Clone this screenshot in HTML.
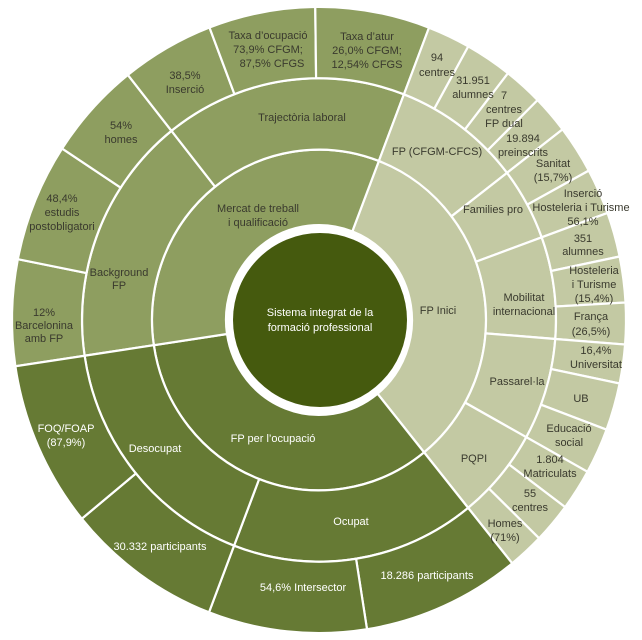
<!DOCTYPE html>
<html><head><meta charset="utf-8"><style>
html,body{margin:0;padding:0;background:#fff;width:642px;height:640px;overflow:hidden}
svg{display:block}
text{font-family:"Liberation Sans",sans-serif;font-size:11px;text-anchor:middle}
.d{fill:#3a3a2e}.w{fill:#fff}
</style></head><body>
<svg id="s" width="642" height="640" viewBox="0 0 642 640" xmlns="http://www.w3.org/2000/svg">
<g id="g" transform="translate(319,320) scale(1,1.02)"></g>
<circle cx="320" cy="320" r="87" fill="#455a0e"/>
<g class="w">
<text x="320" y="316">Sistema integrat de la</text><text x="320" y="331">formació professional</text>
<text x="273" y="442">FP per l’ocupació</text>
<text x="155" y="452">Desocupat</text>
<text x="351" y="525">Ocupat</text>
<text x="66" y="432">FOQ/FOAP</text><text x="66" y="446">(87,9%)</text>
<text x="160" y="550">30.332 participants</text>
<text x="303" y="591">54,6% Intersector</text>
<text x="427" y="579">18.286 participants</text>
</g>
<g class="d">
<text x="258" y="212">Mercat de treball</text><text x="258" y="226">i qualificació</text>
<text x="438" y="314">FP  Inici</text>
<text x="302" y="121">Trajectòria laboral</text>
<text x="119" y="276">Background</text><text x="119" y="289">FP</text>
<text x="437" y="155">FP (CFGM-CFCS)</text>
<text x="493" y="213">Families pro</text>
<text x="524" y="301">Mobilitat</text><text x="524" y="315">internacional</text>
<text x="517" y="385">Passarel·la</text>
<text x="474" y="462">PQPI</text>
<text x="44" y="316">12%</text><text x="44" y="329">Barcelonina</text><text x="44" y="342">amb FP</text>
<text x="62" y="202">48,4%</text><text x="62" y="216">estudis</text><text x="62" y="230">postobligatori</text>
<text x="121" y="129">54%</text><text x="121" y="143">homes</text>
<text x="185" y="79">38,5%</text><text x="185" y="93">Inserció</text>
<text x="268" y="39">Taxa d’ocupació</text><text x="268" y="53">73,9% CFGM;</text><text x="272" y="67">87,5% CFGS</text>
<text x="367" y="40">Taxa d’atur</text><text x="367" y="54">26,0% CFGM;</text><text x="367" y="68">12,54% CFGS</text>
<text x="437" y="61">94</text><text x="437" y="76">centres</text>
<text x="473" y="84">31.951</text><text x="473" y="98">alumnes</text>
<text x="504" y="99">7</text><text x="504" y="113">centres</text><text x="504" y="127">FP dual</text>
<text x="523" y="142">19.894</text><text x="523" y="156">preinscrits</text>
<text x="553" y="167">Sanitat</text><text x="553" y="181">(15,7%)</text>
<text x="583" y="197">Inserció</text><text x="581" y="211">Hosteleria i Turisme</text><text x="583" y="225">56,1%</text>
<text x="583" y="242">351</text><text x="583" y="255">alumnes</text>
<text x="594" y="274">Hosteleria</text><text x="594" y="288">i Turisme</text><text x="594" y="302">(15,4%)</text>
<text x="591" y="320">França</text><text x="591" y="335">(26,5%)</text>
<text x="596" y="354">16,4%</text><text x="596" y="368">Universitat</text>
<text x="581" y="402">UB</text>
<text x="569" y="432">Educació</text><text x="569" y="446">social</text>
<text x="550" y="463">1.804</text><text x="550" y="477">Matriculats</text>
<text x="530" y="497">55</text><text x="530" y="511">centres</text>
<text x="505" y="527">Homes</text><text x="505" y="541">(71%)</text>
</g>
</svg>
<script>
var g=document.getElementById('g');
function P(a,r){var t=a*Math.PI/180;return [r*Math.sin(t),-r*Math.cos(t)];}
function seg(a0,a1,r0,r1,c){
 var p1=P(a0,r1),p2=P(a1,r1),p3=P(a1,r0),p4=P(a0,r0),l=(a1-a0)>180?1:0;
 var d='M'+p1+' A'+r1+','+r1+' 0 '+l+' 1 '+p2+' L'+p3+' A'+r0+','+r0+' 0 '+l+' 0 '+p4+'Z';
 var e=document.createElementNS('http://www.w3.org/2000/svg','path');
 e.setAttribute('d',d);e.setAttribute('fill',c);e.setAttribute('stroke','#fff');e.setAttribute('stroke-width','2.2');
 g.appendChild(e);}
var M='#8e9e60',O='#667a34',I='#c3c9a3';
var R0=93,R1=167,R2=237,R3=307;
seg(21,141,R0,R1,I);seg(141,261.5,R0,R1,O);seg(261.5,381,R0,R1,M);
[[261.5,321.5,M],[321.5,381,M],[21,52.5,I],[52.5,70,I],[70,94.5,I],[94.5,119,I],[119,141,I],[141,201,O],[201,261.5,O]].forEach(function(s){seg(s[0],s[1],R1,R2,s[2]);});
var m=[261.5,281.2,303.2,321.5,339.1,359.3,381];for(var i=0;i<m.length-1;i++)seg(m[i],m[i+1],R2,R3,M);
var f=[21,29.1,38,45.4,52.5,61.5,70,78.3,86.8,94.5,101.7,110.5,119,126.7,134.2,141];for(i=0;i<f.length-1;i++)seg(f[i],f[i+1],R2,R3,I);
var o=[141,171,201,230.6,261.5];for(i=0;i<o.length-1;i++)seg(o[i],o[i+1],R2,R3,O);
</script>
</body></html>
